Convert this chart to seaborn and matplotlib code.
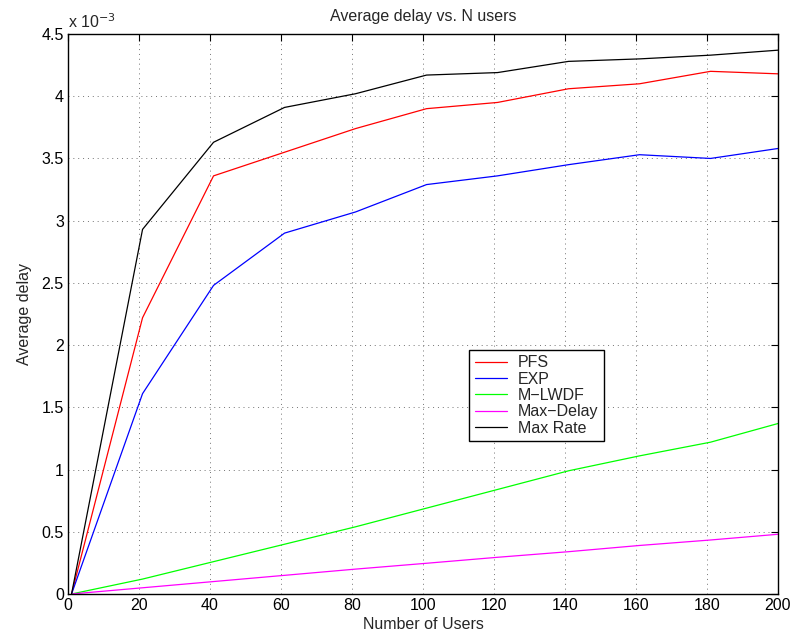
import numpy as np
import pandas as pd
import matplotlib
matplotlib.use('Agg')
import matplotlib.pyplot as plt
import seaborn as sns
from matplotlib.ticker import FuncFormatter, MultipleLocator

# values, in units of 1e-3
users = [1, 21, 41, 61, 81, 101, 121, 141, 161, 181, 200]
pfs = [0, 2.22, 3.36, 3.55, 3.74, 3.90, 3.95, 4.06, 4.10, 4.20, 4.18]
exp_ = [0, 1.61, 2.48, 2.90, 3.07, 3.29, 3.36, 3.45, 3.53, 3.50, 3.58]
mlwdf = [0, 0.12, 0.26, 0.40, 0.54, 0.69, 0.84, 0.99, 1.11, 1.22, 1.37]
maxdelay = [0, 0.05, 0.10, 0.15, 0.20, 0.247, 0.295, 0.34, 0.39, 0.434, 0.48]
maxrate = [0, 2.93, 3.63, 3.91, 4.02, 4.17, 4.19, 4.28, 4.30, 4.33, 4.37]
names = ["PFS", "EXP", "M\u2212LWDF", "Max\u2212Delay", "Max Rate"]
colors = ["#ff0000", "#0000ff", "#00ff00", "#ff00ff", "#000000"]
scale = 1e-3

frames = []
for name, vals in zip(names, [pfs, exp_, mlwdf, maxdelay, maxrate]):
    frames.append(pd.DataFrame({"users": users,
                                "delay": np.array(vals) * scale,
                                "scheme": name}))
df = pd.concat(frames)

sns.set_style("white")
plt.rcParams['font.family'] = ['Liberation Sans', 'DejaVu Sans']
fs = 11.5
plt.rcParams['font.size'] = fs

fig = plt.figure(figsize=(8.03, 6.35), dpi=100)
ax = fig.add_axes([68 / 803, 1 - 594 / 635, 710 / 803, 560 / 635])

sns.lineplot(data=df, x="users", y="delay", hue="scheme", hue_order=names,
             palette=colors, linewidth=0.9, ax=ax, legend=True)

ax.set_xlim(0, 200)
ax.set_ylim(0, 4.5e-3)
ax.xaxis.set_major_locator(MultipleLocator(20))
ax.yaxis.set_major_locator(MultipleLocator(0.5e-3))
ax.yaxis.set_major_formatter(FuncFormatter(lambda v, p: '%g' % round(v / scale, 3)))

ax.grid(True, color='0.45', linestyle=(0, (1, 4)), linewidth=0.7)
ax.tick_params(direction='in', length=5, width=0.8, top=True, right=True,
               labelsize=fs, colors='black', pad=3)
for s in ax.spines.values():
    s.set_visible(True)
    s.set_color('black')
    s.set_linewidth(1.0)

ax.set_xlabel("Number of Users", fontsize=fs, labelpad=3)
ax.set_ylabel("Average delay", fontsize=fs, labelpad=7)
ax.set_title("Average delay vs. N users", fontsize=fs, pad=9)
ax.text(0, 1.006, r"x 10$^{-3}$", transform=ax.transAxes, fontsize=fs,
        ha='left', va='bottom')

leg = ax.legend(loc='upper left', bbox_to_anchor=(0.565, 0.436),
                borderaxespad=0, fancybox=False, framealpha=1,
                edgecolor='black', fontsize=fs, handlelength=2.0,
                labelspacing=0.08, borderpad=0.35, handletextpad=0.7)
leg.get_frame().set_linewidth(1.0)
leg.set_title(None)

fig.savefig("out.png", dpi=100)
